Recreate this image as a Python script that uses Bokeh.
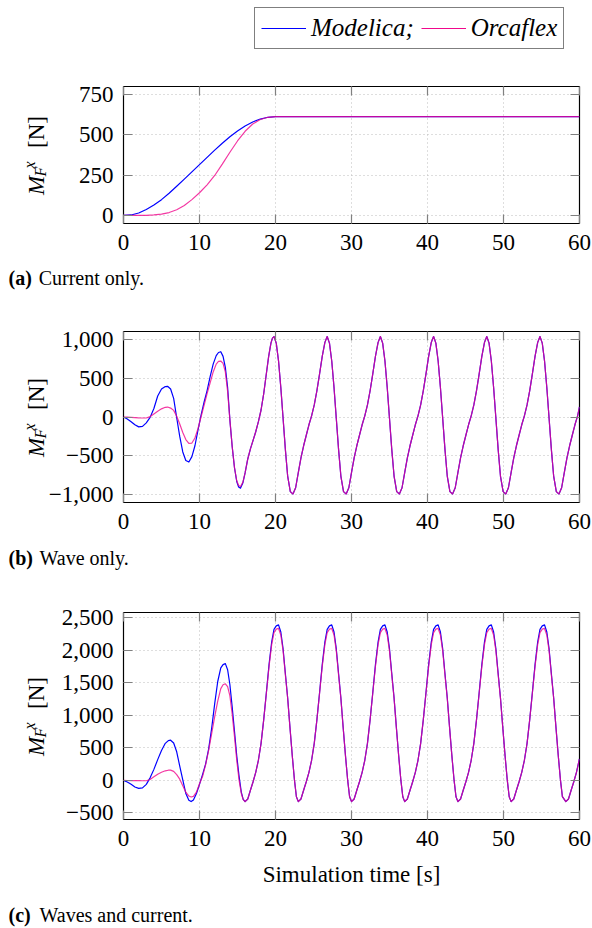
from bokeh.plotting import figure
from bokeh.models import Range1d, FixedTicker, LinearAxis, Legend, LegendItem, Div
from bokeh.layouts import column, row
from bokeh.embed import file_html
from bokeh.resources import INLINE

SERIF = "Liberation Serif"
BLUE = "#0000ff"
MAGENTA = "#f0088c"

series_names = ["Modelica;", "Orcaflex"]
x_ticks = [0, 10, 20, 30, 40, 50, 60]
x_label = "Simulation time [s]"
captions = [("(a)", "Current only."), ("(b)", "Wave only."), ("(c)", "Waves and current.")]

# ---------------- (a) Current only ----------------
t_a = [0, 1, 2, 3, 4, 5, 6, 7, 8, 9, 10, 11, 12, 13, 14, 15, 16, 17, 18, 19, 20, 60]
modelica_a = [0, 3, 15, 37, 65, 98, 138, 181, 225, 270, 315, 360, 405, 448, 488, 524, 555, 580, 598, 609, 613, 613]
orcaflex_a = [0, 0, 0, 1, 3, 8, 18, 35, 62, 98, 141, 190, 248, 318, 392, 462, 522, 567, 595, 609, 613, 613]
y_ticks_a = [0, 250, 500, 750]
y_labels_a = {0: "0", 250: "250", 500: "500", 750: "750"}

# ---------------- (b) Wave only ----------------
t_b_start = [0, 0.5, 1.0, 1.5, 2.0, 2.5, 3.0, 3.5, 4.0, 4.5,
             5.0, 5.5, 5.8, 6.2, 6.6, 7.0, 7.4, 7.8, 8.2, 8.6,
             9.0, 9.4, 9.8, 10.2, 10.6, 11.0, 11.4, 11.8, 12.2, 12.5,
             12.8, 13.1, 13.4, 13.7, 14.0, 14.3, 14.6, 14.9, 15.15, 15.4,
             15.7, 16.0, 16.35, 16.7, 17.05, 17.4, 17.75, 18.1, 18.45, 18.8,
             19.1, 19.4, 19.6, 19.8, 20.1, 20.4, 20.7, 21.0, 21.3, 21.6,
             21.95]
modelica_b_start = [0, -25, -60, -100, -127, -120, -75, -5, 110, 270,
                    360, 392, 395, 360, 240, -10, -250, -450, -560, -580,
                    -510, -370, -170, 20, 190, 340, 520, 680, 790, 830,
                    840, 780, 640, 380, -40, -380, -650, -830, -900, -915,
                    -850, -720, -540, -410, -300, -190, -60, 90, 300, 560,
                    780, 950, 1015, 1035, 950, 720, 380, -20, -420, -760,
                    -960]
orcaflex_b_start = [0, -2, -5, -9, -12, -13, -13, 5, 40, 75,
                    105, 125, 128, 115, 85, 10, -90, -200, -290, -340,
                    -335, -270, -150, 0, 150, 300, 440, 580, 680, 715,
                    720, 690, 580, 330, -40, -380, -650, -820, -880, -895,
                    -840, -720, -540, -410, -300, -190, -60, 90, 300, 560,
                    780, 950, 1015, 1035, 950, 720, 380, -20, -420, -760,
                    -960]
# steady state: trough times, sample offsets inside a cycle, values read per cycle
b_trough_times = [22.3, 29.3, 36.3, 43.3, 50.3, 57.3]
b_offsets = [0, 0.35, 0.7, 1.05, 1.4, 1.75, 2.1, 2.45, 2.8, 3.15, 3.5,
             3.85, 4.2, 4.5, 4.8, 5.1, 5.4, 5.7, 6.0, 6.3, 6.65]
b_cycles = [
    [-990, -910, -715, -525, -370, -235, -100, 15, 155, 340, 555, 780, 960, 1035, 950, 720, 380, -20, -420, -760, -960],
    [-990, -910, -715, -525, -370, -235, -100, 15, 155, 340, 555, 780, 960, 1035, 950, 720, 380, -20, -420, -760, -960],
    [-990, -910, -715, -525, -370, -235, -100, 15, 155, 340, 555, 780, 960, 1035, 950, 720, 380, -20, -420, -760, -960],
    [-990, -910, -715, -525, -370, -235, -100, 15, 155, 340, 555, 780, 960, 1035, 950, 720, 380, -20, -420, -760, -960],
    [-990, -910, -715, -525, -370, -235, -100, 15, 155, 340, 555, 780, 960, 1035, 950, 720, 380, -20, -420, -760, -960],
    [-990, -910, -715, -525, -370, -235, -100, 15],
]
b_end = (60, 130)
y_ticks_b = [-1000, -500, 0, 500, 1000]
y_labels_b = {-1000: "\u22121,000", -500: "\u2212500", 0: "0", 500: "500", 1000: "1,000"}

# ---------------- (c) Waves and current ----------------
t_c_start = [0, 0.5, 1.0, 1.5, 2.0, 2.5, 3.0, 3.5, 4.0, 4.5,
             5.0, 5.5, 5.9, 6.2, 6.6, 7.0, 7.4, 7.8, 8.2, 8.6,
             8.9, 9.2, 9.6, 10.0, 10.4, 10.8, 11.2, 11.6, 12.0, 12.4,
             12.8, 13.1, 13.4, 13.7, 14.0, 14.3, 14.6, 14.9, 15.2, 15.5,
             15.75]
modelica_c_start = [0, -25, -60, -100, -122, -115, -60, 40, 170, 320,
                    460, 570, 612, 618, 575, 440, 220, 10, -200, -305,
                    -325, -300, -200, -60, 90, 250, 480, 800, 1180, 1520,
                    1730, 1780, 1795, 1700, 1470, 1130, 760, 380, 70, -180,
                    -290]
orcaflex_c_start = [0, -1, -2, -3, -4, -5, -5, 15, 55, 95,
                    125, 148, 157, 158, 140, 90, 20, -80, -180, -240,
                    -255, -245, -180, -50, 60, 240, 460, 720, 980, 1220,
                    1410, 1470, 1485, 1440, 1300, 1020, 680, 310, 10, -200,
                    -295]
c_trough_times = [16.0, 23.0, 30.0, 37.0, 44.0, 51.0, 58.2]
c_offsets = [0, 0.35, 0.7, 1.05, 1.4, 1.75, 2.1, 2.45, 2.8, 3.15, 3.5,
             3.8, 4.1, 4.4, 4.7, 5.0, 5.3, 5.6, 5.9, 6.2, 6.5, 6.75]
modelica_c_cycles = [
    [-325, -285, -150, -20, 125, 310, 570, 935, 1350, 1780, 2130, 2320, 2375, 2390, 2280, 2020, 1640, 1270, 820, 390, 0, -250],
    [-325, -285, -150, -20, 125, 310, 570, 935, 1350, 1780, 2130, 2320, 2375, 2390, 2280, 2020, 1640, 1270, 820, 390, 0, -250],
    [-325, -285, -150, -20, 125, 310, 570, 935, 1350, 1780, 2130, 2320, 2375, 2390, 2280, 2020, 1640, 1270, 820, 390, 0, -250],
    [-325, -285, -150, -20, 125, 310, 570, 935, 1350, 1780, 2130, 2320, 2375, 2390, 2280, 2020, 1640, 1270, 820, 390, 0, -250],
    [-325, -285, -150, -20, 125, 310, 570, 935, 1350, 1780, 2130, 2320, 2375, 2390, 2280, 2020, 1640, 1270, 820, 390, 0, -250],
    [-325, -285, -150, -20, 125, 310, 570, 935, 1350, 1780, 2130, 2320, 2375, 2390, 2280, 2020, 1640, 1270, 820, 390, 0, -250],
    [-325, -285, -150, -20, 125, 310],
]
orcaflex_c_cycles = [
    [-325, -285, -150, -20, 125, 310, 570, 935, 1340, 1750, 2090, 2270, 2325, 2335, 2235, 1990, 1620, 1260, 815, 385, 0, -250],
    [-325, -285, -150, -20, 125, 310, 570, 935, 1340, 1750, 2090, 2270, 2325, 2335, 2235, 1990, 1620, 1260, 815, 385, 0, -250],
    [-325, -285, -150, -20, 125, 310, 570, 935, 1340, 1750, 2090, 2270, 2325, 2335, 2235, 1990, 1620, 1260, 815, 385, 0, -250],
    [-325, -285, -150, -20, 125, 310, 570, 935, 1340, 1750, 2090, 2270, 2325, 2335, 2235, 1990, 1620, 1260, 815, 385, 0, -250],
    [-325, -285, -150, -20, 125, 310, 570, 935, 1340, 1750, 2090, 2270, 2325, 2335, 2235, 1990, 1620, 1260, 815, 385, 0, -250],
    [-325, -285, -150, -20, 125, 310, 570, 935, 1340, 1750, 2090, 2270, 2325, 2335, 2235, 1990, 1620, 1260, 815, 385, 0, -250],
    [-325, -285, -150, -20, 125, 310],
]
c_end = (60, 330)
y_ticks_c = [-500, 0, 500, 1000, 1500, 2000, 2500]
y_labels_c = {-500: "\u2212500", 0: "0", 500: "500", 1000: "1,000", 1500: "1,500", 2000: "2,000", 2500: "2,500"}


def assemble(t_start, v_start, troughs, offsets, cycles, end):
    t = list(t_start)
    v = list(v_start)
    for tr, vals in zip(troughs, cycles):
        for o, val in zip(offsets, vals):
            t.append(round(tr + o, 3))
            v.append(val)
    t.append(end[0])
    v.append(end[1])
    return t, v


t_b_mod, modelica_b = assemble(t_b_start, modelica_b_start, b_trough_times, b_offsets, b_cycles, b_end)
t_b_orc, orcaflex_b = assemble(t_b_start, orcaflex_b_start, b_trough_times, b_offsets, b_cycles, b_end)
t_c_mod, modelica_c = assemble(t_c_start, modelica_c_start, c_trough_times, c_offsets, modelica_c_cycles, c_end)
t_c_orc, orcaflex_c = assemble(t_c_start, orcaflex_c_start, c_trough_times, c_offsets, orcaflex_c_cycles, c_end)

PAGE_W = 592
LABEL_W = 44          # strip holding the rotated y label
FIG_W = PAGE_W - LABEL_W
BORDER_L = 79         # frame starts at 44 + 79 = 123
BORDER_R = 13
FONT_CSS = "font-family:'Liberation Serif',serif;color:#000;"


def style_axis(ax, ticks, labels=None, show=True, standoff=10):
    ax.ticker = FixedTicker(ticks=ticks)
    ax.axis_line_color = None
    ax.major_tick_in = 9
    ax.major_tick_out = 0
    ax.minor_tick_in = 0
    ax.minor_tick_out = 0
    ax.minor_tick_line_color = None
    ax.major_tick_line_color = "#808080"
    ax.major_tick_line_width = 1.2
    ax.major_label_text_font = SERIF
    ax.major_label_text_color = "black"
    if show:
        ax.major_label_text_font_size = "23px"
        ax.major_label_standoff = standoff
        if labels:
            ax.major_label_overrides = labels
    else:
        ax.major_label_text_font_size = "1px"
        ax.major_label_standoff = 0
        ax.major_label_overrides = {t: "" for t in ticks}


def panel(height, top, bottom, yr, yticks, ylabels, tm, vm, to, vo, xlabel=None):
    p = figure(width=FIG_W, height=height, x_range=Range1d(0, 60), y_range=Range1d(*yr),
               output_backend="svg", toolbar_location=None,
               min_border_left=BORDER_L, min_border_right=BORDER_R,
               min_border_top=top, min_border_bottom=bottom)
    p.background_fill_color = "white"
    p.border_fill_color = None
    p.outline_line_color = "black"
    p.outline_line_width = 1.2
    style_axis(p.xaxis[0], x_ticks, show=True, standoff=11)
    style_axis(p.yaxis[0], yticks, labels=ylabels, show=True, standoff=10)
    if xlabel:
        ax = p.xaxis[0]
        ax.axis_label = xlabel
        ax.axis_label_text_font = SERIF
        ax.axis_label_text_font_size = "23px"
        ax.axis_label_text_font_style = "normal"
        ax.axis_label_text_color = "black"
        ax.axis_label_standoff = 13
    top_ax = LinearAxis()
    style_axis(top_ax, x_ticks, show=False)
    p.add_layout(top_ax, "above")
    right_ax = LinearAxis()
    style_axis(right_ax, yticks, show=False)
    p.add_layout(right_ax, "right")
    for g, ticks in ((p.xgrid[0], x_ticks), (p.ygrid[0], yticks)):
        g.ticker = FixedTicker(ticks=ticks)
        g.grid_line_color = "#bdbdbd"
        g.grid_line_dash = "1 3"
        g.grid_line_width = 1
    p.line(tm, vm, line_color=BLUE, line_width=1.2, line_join="round")
    p.line(to, vo, line_color=MAGENTA, line_alpha=0.8, line_width=1.2, line_join="round")
    return p


def ylabel_div(height, start_top):
    # rotated label: text runs upwards from (0, start_top); local y = screen x
    base = 44.5
    big = 23 * 0.8375      # baseline offset for 23px text with line-height = font-size
    small = 16 * 0.8375
    html = (
        f'<div style="position:relative;width:{LABEL_W}px;height:{height}px;overflow:visible;">'
        f'<div style="position:absolute;left:0px;top:{start_top}px;width:0px;height:0px;'
        f'transform-origin:0 0;transform:rotate(-90deg);white-space:nowrap;{FONT_CSS}">'
        f'<span style="position:absolute;left:0px;top:{base - big:.2f}px;font-size:23px;line-height:23px;font-style:italic;">M</span>'
        f'<span style="position:absolute;left:18.5px;top:{base + 1.5 - small:.2f}px;font-size:16px;line-height:16px;font-style:italic;">F</span>'
        f'<span style="position:absolute;left:26.5px;top:{base - 9.3 - small:.2f}px;font-size:16px;line-height:16px;font-style:italic;">x</span>'
        f'<span style="position:absolute;left:47px;top:{base - big:.2f}px;font-size:23px;line-height:23px;">[N]</span>'
        '</div></div>'
    )
    return Div(text=html, width=LABEL_W, height=height, margin=0,
               styles={"overflow": "visible", "z-index": "1"})


def caption_div(height, top, tag, text, x_text):
    html = (
        f'<div style="position:relative;width:{PAGE_W}px;height:{height}px;{FONT_CSS}'
        'font-size:20px;line-height:20px;">'
        f'<span style="position:absolute;left:8.5px;top:{top}px;font-weight:bold;white-space:nowrap;">{tag}</span>'
        f'<span style="position:absolute;left:{x_text}px;top:{top}px;white-space:nowrap;">{text}</span>'
        '</div>'
    )
    return Div(text=html, width=PAGE_W, height=height, margin=0)


# legend strip (its renderers hold real data but the view range keeps them out of sight)
lg = figure(width=PAGE_W, height=58, x_range=Range1d(0, 60), y_range=Range1d(-5000, -4000),
            output_backend="svg", toolbar_location=None,
            min_border_left=123, min_border_right=BORDER_R, min_border_top=0, min_border_bottom=0,
            x_axis_location=None, y_axis_location=None)
lg.outline_line_color = None
lg.grid.visible = False
r1 = lg.line(t_a, modelica_a, line_color=BLUE, line_width=1.2)
r2 = lg.line(t_a, orcaflex_a, line_color=MAGENTA, line_width=1.2)
legend = Legend(items=[LegendItem(label=series_names[0], renderers=[r1]),
                       LegendItem(label=series_names[1], renderers=[r2])],
                orientation="horizontal", location=(131, 9), margin=0,
                padding=6, spacing=7, glyph_width=45, glyph_height=20,
                label_standoff=5, label_width=86, label_text_font=SERIF,
                label_text_font_style="italic", label_text_font_size="25px",
                label_text_color="black", border_line_color="black",
                border_line_width=1, background_fill_color="white",
                background_fill_alpha=1.0)
lg.add_layout(legend, "center")

pa = panel(205, 28, 40, (-50, 800), y_ticks_a, y_labels_a, t_a, modelica_a, t_a, orcaflex_a)
pb = panel(242, 31, 40, (-1100, 1100), y_ticks_b, y_labels_b, t_b_mod, modelica_b, t_b_orc, orcaflex_b)
pc = panel(323, 32, 84, (-600, 2580), y_ticks_c, y_labels_c, t_c_mod, modelica_c, t_c_orc, orcaflex_c,
           xlabel=x_label)

layout = column(
    lg,
    row(ylabel_div(205, 136.5), pa, spacing=0),
    caption_div(37, 5.25, captions[0][0], captions[0][1], 38.7),
    row(ylabel_div(242, 156.5), pb, spacing=0),
    caption_div(38, 6.25, captions[1][0], captions[1][1], 39.5),
    row(ylabel_div(323, 175.5), pc, spacing=0),
    caption_div(25, 2, captions[2][0], captions[2][1], 39.5),
    spacing=0,
)
open("out.html", "w").write(file_html(layout, INLINE))
